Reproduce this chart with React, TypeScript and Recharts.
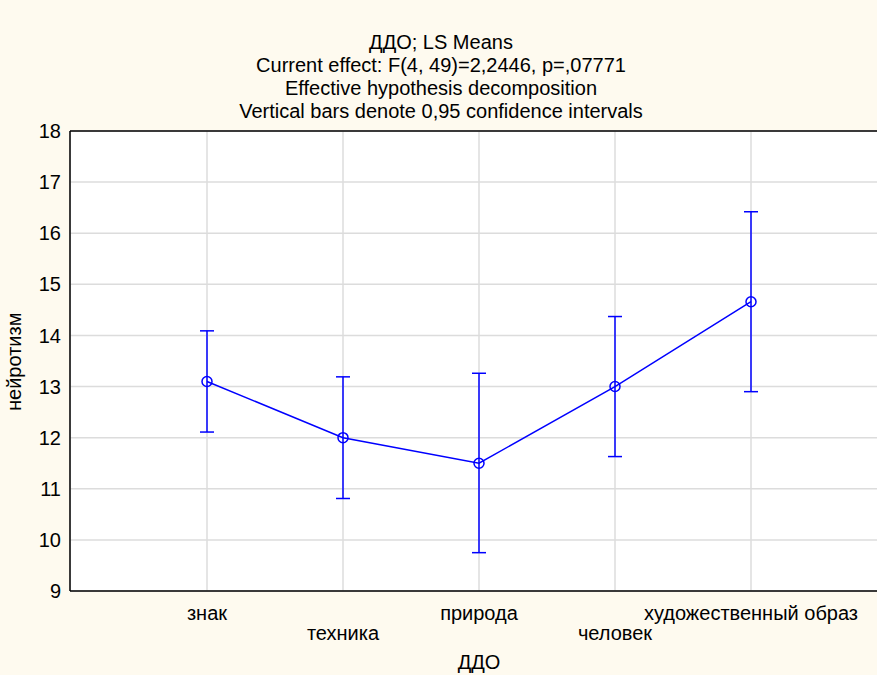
import {
  CartesianGrid,
  ErrorBar,
  Line,
  LineChart,
  ReferenceLine,
  XAxis,
  YAxis
} from 'recharts';

const categories = ['знак', 'техника', 'природа', 'человек', 'художественный образ'];
const means = [13.1, 12.0, 11.5, 13.0, 14.66];
const lower = [12.11, 10.81, 9.75, 11.63, 12.9];
const upper = [14.09, 13.19, 13.26, 14.37, 16.42];
const yTicks = [9, 10, 11, 12, 13, 14, 15, 16, 17, 18];

const titleLines = [
  'ДДО; LS Means',
  'Current effect: F(4, 49)=2,2446, p=,07771',
  'Effective hypothesis decomposition',
  'Vertical bars denote 0,95 confidence intervals'
];

const font = '"Liberation Sans", Arial, sans-serif';
const blue = '#0000ff';

const data = categories.map((name, i) => ({
  name,
  mean: means[i],
  err: [means[i] - lower[i], upper[i] - means[i]]
}));

// category labels alternate between two rows
const XTick = ({ x, y, payload, index }: any) => (
  <text
    x={x}
    y={y + (index % 2 === 0 ? 21 : 41)}
    textAnchor="middle"
    fontSize={20}
    fontFamily={font}
    fill="#000"
  >
    {payload.value}
  </text>
);

export default function App() {
  return (
    <div
      style={{
        position: 'absolute',
        left: 0,
        top: 0,
        width: 877,
        height: 675,
        overflow: 'hidden',
        background: '#fefaef',
        fontFamily: font
      }}
    >
      {titleLines.map((line, i) => (
        <div
          key={line}
          style={{
            position: 'absolute',
            left: 0,
            width: 882,
            top: 31 + i * 23,
            textAlign: 'center',
            fontSize: 20,
            lineHeight: '23px',
            color: '#000'
          }}
        >
          {line}
        </div>
      ))}
      <LineChart
        width={900}
        height={675}
        data={data}
        margin={{ top: 131, right: 12, left: 0, bottom: 0 }}
        style={{ position: 'absolute', left: 0, top: 0 }}
      >
        <CartesianGrid stroke="#dcdcdc" strokeWidth={1.5} fill="#ffffff" />
        <XAxis
          dataKey="name"
          height={84}
          padding={{ left: 137, right: 137 }}
          axisLine={{ stroke: '#000', strokeWidth: 1.5 }}
          tickLine={false}
          tick={<XTick />}
          interval={0}
          label={{ value: 'ДДО', position: 'insideBottom', offset: 6, fontSize: 20, fill: '#000', fontFamily: font }}
        />
        <YAxis
          width={70}
          domain={[9, 18]}
          ticks={yTicks}
          allowDataOverflow
          axisLine={{ stroke: '#000', strokeWidth: 1.5 }}
          tickLine={false}
          tickSize={0}
          tickMargin={9}
          tick={{ fontSize: 20, fill: '#000', fontFamily: font }}
          label={{
            value: 'нейротизм',
            angle: -90,
            position: 'insideLeft',
            offset: 14,
            dy: 50,
            fontSize: 20,
            fill: '#000',
            fontFamily: font
          }}
        />
        <ReferenceLine y={18} stroke="#000" strokeWidth={1.5} />
        <Line
          type="linear"
          dataKey="mean"
          stroke={blue}
          strokeWidth={1.5}
          dot={{ r: 5, fill: 'none', stroke: blue, strokeWidth: 1.5 }}
          activeDot={false}
          isAnimationActive={false}
        >
          <ErrorBar dataKey="err" width={7} stroke={blue} strokeWidth={1.5} direction="y" isAnimationActive={false} />
        </Line>
      </LineChart>
    </div>
  );
}
